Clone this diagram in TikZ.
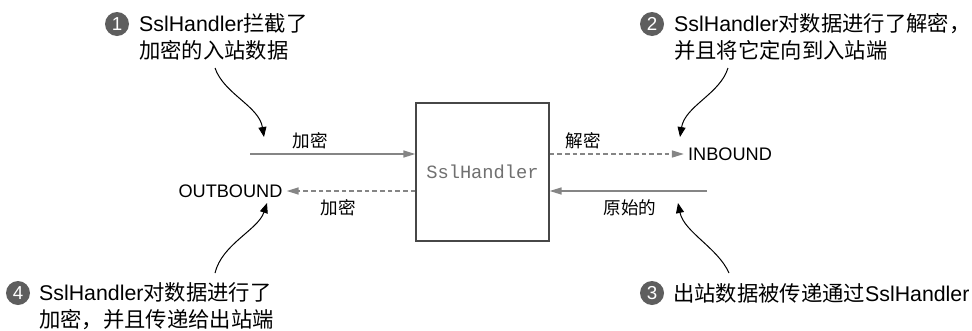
\documentclass[tikz,border=0pt]{standalone}
\usepackage{fontspec}
\setmainfont{Liberation Sans}
\setmonofont{Liberation Mono}
\newfontfamily\zhfont{Noto Sans CJK SC}
\usetikzlibrary{arrows.meta, calc}
\definecolor{FlowGray}{HTML}{858585}
\definecolor{BoxGray}{HTML}{474747}
\definecolor{StepGray}{HTML}{5E5E5E}
\definecolor{MonoGray}{HTML}{707070}
\newcommand{\zh}[1]{{\zhfont #1}}
\tikzset{
    handlerbox/.style={
        draw=BoxGray,
        line width=0.4mm,
        fill=white,
        minimum width=39.9mm,
        minimum height=41.4mm,
        text=MonoGray,
        font=\ttfamily\fontsize{16}{16}\selectfont
    },
    endlabel/.style={
        inner sep=1.2mm,
        font=\fontsize{15.5}{15.5}\selectfont
    },
    flowlabel/.style={
        inner sep=0pt,
        font=\zhfont\fontsize{15}{15}\selectfont
    },
    stepnum/.style={
        circle,
        fill=StepGray,
        text=white,
        inner sep=0pt,
        minimum size=7.2mm,
        font=\fontsize{16}{16}\selectfont
    },
    steptext/.style={
        anchor=west,
        inner sep=0pt,
        align=left,
        font=\fontsize{18.2}{23}\selectfont
    },
    flow/.style={
        -{Triangle[length=3.6mm,width=2.1mm]},
        line width=0.45mm,
        FlowGray
    },
    flowdash/.style={
        flow,
        dash pattern=on 1.4mm off 0.9mm
    },
    callout/.style={
        -{Triangle[length=3mm,width=2.4mm]},
        line width=0.3mm,
        black
    }
}
\begin{document}
\begin{tikzpicture}[x=0.3mm, y=-0.3mm]
    \useasboundingbox (0,0) rectangle (972,330);

    % the handler itself
    \node[handlerbox] (ssl) at (482.5,172) {SslHandler};

    % inbound path
    \node[endlabel] (inb) at (730,154) {INBOUND};
    \coordinate (encin) at (250,154);
    \draw[flow] (encin) -- (encin -| ssl.west);
    \node[flowlabel] (encinlbl) at (310,141) {加密};
    \draw[flowdash] (ssl.east |- inb) -- (inb.west);
    \node[flowlabel] (declbl) at (583,141) {解密};

    % outbound path
    \node[endlabel] (outb) at (230.5,191) {OUTBOUND};
    \coordinate (rawin) at (707,191);
    \draw[flow] (rawin) -- (rawin -| ssl.east);
    \node[flowlabel] (rawlbl) at (630,208) {原始的};
    \draw[flowdash] (ssl.west |- outb) -- (outb.east);
    \node[flowlabel] (encoutlbl) at (338,208) {加密};

    % numbered notes
    \node[stepnum] (n1) at (117,24) {1};
    \node[steptext] (t1) at (139,37) {SslHandler\zh{拦截了}\\\zh{加密的入站数据}};
    \node[stepnum] (n2) at (652,24) {2};
    \node[steptext] (t2) at (674,37) {SslHandler\zh{对数据进行了解密，}\\\zh{并且将它定向到入站端}};
    \node[stepnum] (n3) at (652,293) {3};
    \node[steptext] (t3) at (673,293) {\zh{出站数据被传递通过}SslHandler};
    \node[stepnum] (n4) at (18,293) {4};
    \node[steptext] (t4) at (39,306) {SslHandler\zh{对数据进行了}\\\zh{加密，并且传递给出站端}};

    % pointers from the notes
    \coordinate (p1) at (215,68);
    \coordinate (q1) at (264,137);
    \draw[callout] (p1) .. controls (224,94) and (259,106) .. (q1);
    \coordinate (p2) at (728,68);
    \coordinate (q2) at (680,137);
    \draw[callout] (p2) .. controls (720,94) and (685,106) .. (q2);
    \coordinate (p3) at (729,273);
    \coordinate (q3) at (678,203);
    \draw[callout] (p3) .. controls (718,248) and (684,232) .. (q3);
    \coordinate (p4) at (215,273);
    \coordinate (q4) at (267,203);
    \draw[callout] (p4) .. controls (222,244) and (258,230) .. (q4);
\end{tikzpicture}
\end{document}
